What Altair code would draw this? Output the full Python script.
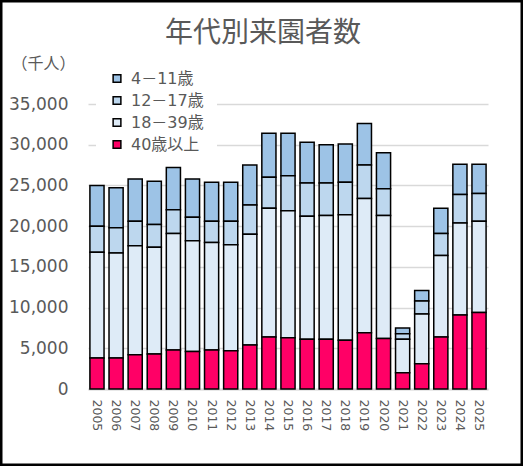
import altair as alt
import pandas as pd

# 年別・年代別の来園者数（千人）
years = ["2005", "2006", "2007", "2008", "2009", "2010", "2011", "2012", "2013", "2014",
         "2015", "2016", "2017", "2018", "2019", "2020", "2021", "2022", "2023", "2024", "2025"]
age_4_11 = [5000, 4900, 5200, 5300, 5200, 4700, 4800, 4800, 4900, 5400,
            5200, 5000, 4700, 4700, 5100, 4400, 700, 1300, 3100, 3700, 3600]
age_12_17 = [3200, 3100, 3000, 2800, 2900, 2900, 2600, 2900, 3600, 3800,
             4300, 4100, 4000, 4000, 4100, 3300, 700, 1600, 2700, 3500, 3400]
age_18_39 = [13000, 12900, 13400, 13100, 14300, 13600, 13200, 13000, 13600, 15800,
             15600, 15100, 15200, 15400, 16500, 15100, 4100, 6100, 10000, 11300, 11200]
age_40_up = [3800, 3800, 4200, 4300, 4800, 4600, 4800, 4700, 5400, 6400,
             6300, 6100, 6100, 6000, 6900, 6200, 2000, 3100, 6400, 9100, 9400]

groups = ["4－11歳", "12－17歳", "18－39歳", "40歳以上"]
colors = ["#9dc3e6", "#bdd7ee", "#deebf7", "#ff0066"]
y_ticks = [0, 5000, 10000, 15000, 20000, 25000, 30000, 35000]

series = [age_4_11, age_12_17, age_18_39, age_40_up]
stack_pos = [3, 2, 1, 0]  # 40歳以上 at the bottom of each bar

rows = []
for i, yr in enumerate(years):
    for name, vals, pos in zip(groups, series, stack_pos):
        rows.append({"年": yr, "年代": name, "人数": vals[i], "順": pos})
df = pd.DataFrame(rows)

GRAY = "#595959"
NUM_FONT = "DejaVu Sans"
JP_FONT = "DejaVu Sans, Noto Sans CJK JP"

bars = alt.Chart(df).mark_bar(stroke="black", strokeWidth=1.5).encode(
    x=alt.X(
        "年:N",
        sort=years,
        scale=alt.Scale(paddingInner=0.26, paddingOuter=0.1),
        axis=alt.Axis(
            title=None, labelAngle=90, ticks=False, tickSize=0, labelPadding=10,
            labelFont=NUM_FONT, labelFontSize=12.5, labelColor=GRAY,
            domainColor="#d9d9d9", domainWidth=2, grid=False,
        ),
    ),
    y=alt.Y(
        "人数:Q",
        stack="zero",
        scale=alt.Scale(domain=[0, 35000], nice=False),
        axis=alt.Axis(
            values=y_ticks, format=",.0f", domain=False, ticks=False, tickSize=0,
            labelPadding=20, labelFont=NUM_FONT, labelFontSize=17, labelColor=GRAY,
            gridColor="#d9d9d9", gridWidth=1.3,
            title="（千人）", titleAngle=0, titleX=-45, titleY=-41,
            titleAlign="center", titleBaseline="middle",
            titleFont="Noto Sans CJK JP", titleFontSize=16,
            titleFontWeight="normal", titleColor=GRAY,
        ),
    ),
    color=alt.Color(
        "年代:N",
        scale=alt.Scale(domain=groups, range=colors),
        legend=alt.Legend(
            title=None, orient="none", legendX=8, legendY=-46.5,
            fillColor="white", padding=13,
            symbolType="square", symbolSize=60, symbolStrokeColor="black",
            symbolStrokeWidth=1.5, labelOffset=6, rowPadding=6,
            labelFont=JP_FONT, labelFontSize=16, labelColor=GRAY,
        ),
    ),
    order=alt.Order("順:Q", sort="ascending"),
)

# outer frame of the chart
frame = alt.Chart(alt.Data(values=[{}])).mark_rect(
    fillOpacity=0, stroke="black", strokeWidth=2.5
).encode(
    x=alt.value(-86.75), x2=alt.value(433.75),
    y=alt.value(-102.75), y2=alt.value(360.75),
)

chart = alt.layer(bars, frame).properties(
    width=400,
    height=285,
    padding={"left": 88, "top": 104, "right": 35, "bottom": 77},
    autosize=alt.AutoSizeParams(type="none"),
    title=alt.Title(
        "年代別来園者数", font="Noto Sans CJK JP", fontSize=28,
        fontWeight="normal", color=GRAY, anchor="middle", dx=-25, offset=-48,
    ),
).configure_view(stroke=None)

chart.save("out.html", embed_options={"renderer": "svg", "actions": False})
